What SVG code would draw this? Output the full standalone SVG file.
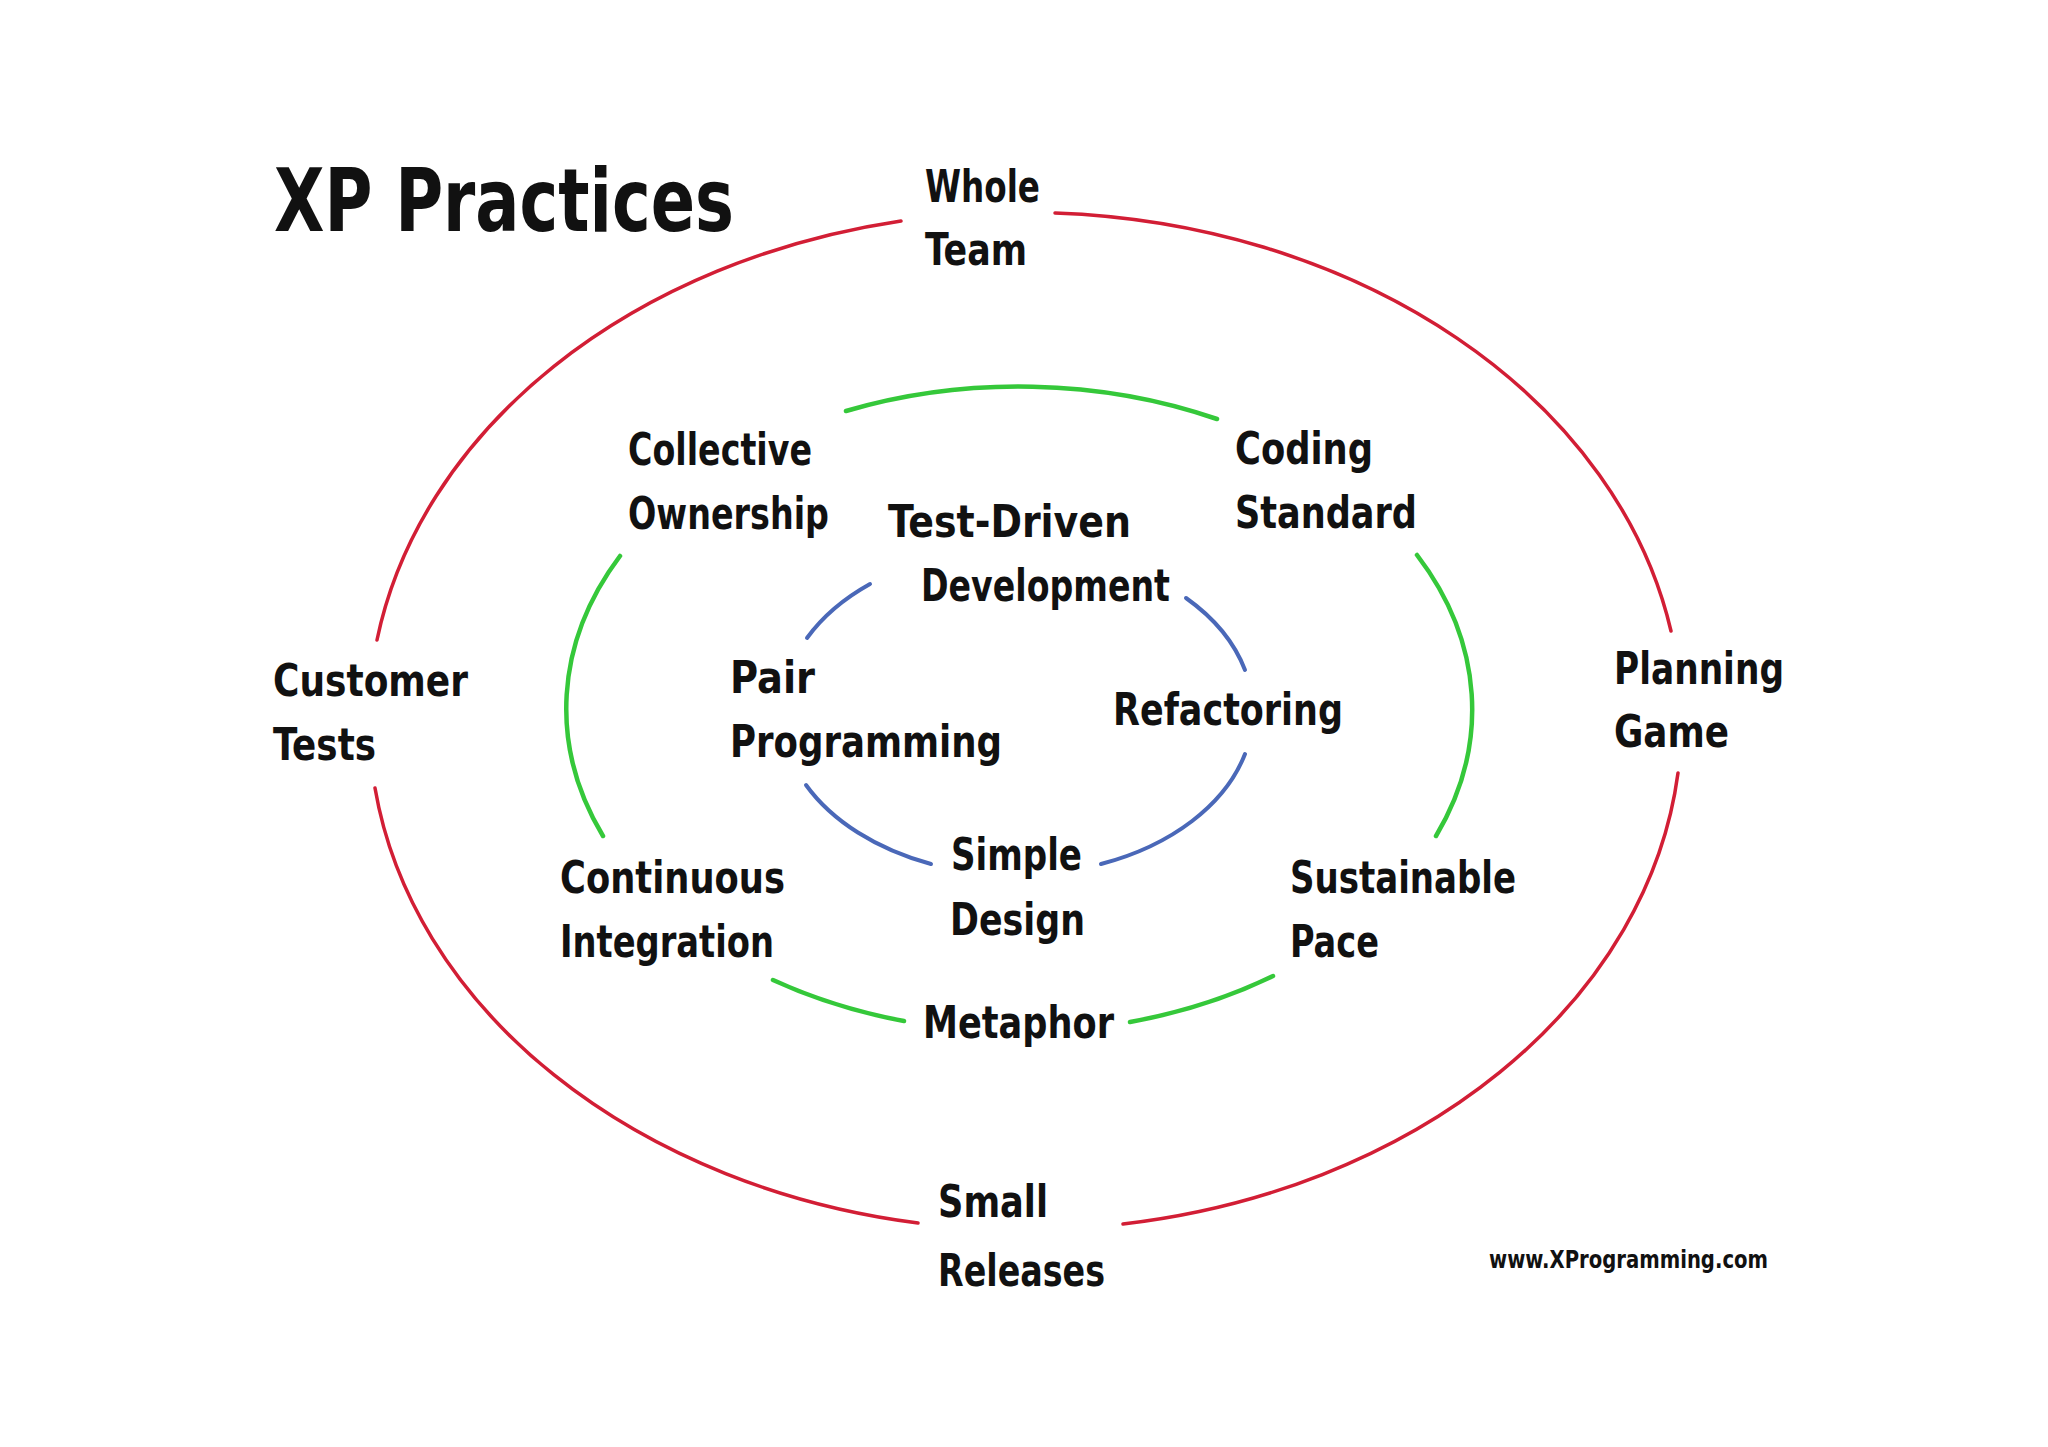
<svg xmlns="http://www.w3.org/2000/svg" width="2048" height="1447" viewBox="0 0 2048 1447">
<style>
.lbl { font-family: "Liberation Sans Narrow", "DejaVu Sans Condensed", "DejaVu Sans", sans-serif; font-weight: bold; font-size: 44px; fill: #111; }
.title { font-family: "Liberation Sans Narrow", "DejaVu Sans Condensed", "DejaVu Sans", sans-serif; font-weight: bold; font-size: 88px; fill: #111; }
.url { font-family: "Liberation Sans Narrow", "DejaVu Sans Condensed", "DejaVu Sans", sans-serif; font-weight: bold; font-size: 25px; fill: #111; }
.red { fill: none; stroke: #d21e35; stroke-width: 3.5; stroke-linecap: round; }
.green { fill: none; stroke: #35c83a; stroke-width: 4.5; stroke-linecap: round; }
.blue { fill: none; stroke: #4a68b8; stroke-width: 4; stroke-linecap: round; }
</style>
<rect width="2048" height="1447" fill="#ffffff"/>
<g id="connectors">
  <path class="red" d="M1055,213 A656,509 0 0 1 1671,631"/>
  <path class="red" d="M1678,773 A656,509 0 0 1 1123,1224"/>
  <path class="red" d="M918,1223 A656,509 0 0 1 375,788"/>
  <path class="red" d="M377,640 A656,509 0 0 1 901,221"/>
  <path class="green" d="M846,411 A453,323 0 0 1 1217,419"/>
  <path class="green" d="M1417,555 A453,323 0 0 1 1436,836"/>
  <path class="green" d="M1273,976 A453,323 0 0 1 1130,1022"/>
  <path class="green" d="M904,1021 A453,323 0 0 1 773,980"/>
  <path class="green" d="M603,836 A453,323 0 0 1 620,556"/>
  <path class="blue" d="M807,638 A236,163 0 0 1 870,584"/>
  <path class="blue" d="M1186,598 A236,163 0 0 1 1245,670"/>
  <path class="blue" d="M1245,754 A236,163 0 0 1 1101,864"/>
  <path class="blue" d="M931,864 A236,163 0 0 1 806,785"/>
</g>
<g id="title"><text class="title" x="274" y="231" textLength="460" lengthAdjust="spacingAndGlyphs">XP Practices</text></g>
<g id="whole-team"><text class="lbl" x="925" y="202" textLength="115" lengthAdjust="spacingAndGlyphs">Whole</text><text class="lbl" x="925" y="265" textLength="102" lengthAdjust="spacingAndGlyphs">Team</text></g>
<g id="collective-ownership"><text class="lbl" x="628" y="465" textLength="184" lengthAdjust="spacingAndGlyphs">Collective</text><text class="lbl" x="628" y="529" textLength="201" lengthAdjust="spacingAndGlyphs">Ownership</text></g>
<g id="test-driven-development"><text class="lbl" x="888" y="537" textLength="243" lengthAdjust="spacingAndGlyphs">Test-Driven</text><text class="lbl" x="921" y="601" textLength="249" lengthAdjust="spacingAndGlyphs">Development</text></g>
<g id="coding-standard"><text class="lbl" x="1235" y="464" textLength="138" lengthAdjust="spacingAndGlyphs">Coding</text><text class="lbl" x="1235" y="528" textLength="182" lengthAdjust="spacingAndGlyphs">Standard</text></g>
<g id="customer-tests"><text class="lbl" x="273" y="696" textLength="195" lengthAdjust="spacingAndGlyphs">Customer</text><text class="lbl" x="273" y="760" textLength="103" lengthAdjust="spacingAndGlyphs">Tests</text></g>
<g id="pair-programming"><text class="lbl" x="730" y="693" textLength="85" lengthAdjust="spacingAndGlyphs">Pair</text><text class="lbl" x="730" y="757" textLength="272" lengthAdjust="spacingAndGlyphs">Programming</text></g>
<g id="refactoring"><text class="lbl" x="1113" y="725" textLength="230" lengthAdjust="spacingAndGlyphs">Refactoring</text></g>
<g id="planning-game"><text class="lbl" x="1614" y="684" textLength="170" lengthAdjust="spacingAndGlyphs">Planning</text><text class="lbl" x="1614" y="747" textLength="115" lengthAdjust="spacingAndGlyphs">Game</text></g>
<g id="simple-design"><text class="lbl" x="951" y="870" textLength="131" lengthAdjust="spacingAndGlyphs">Simple</text><text class="lbl" x="950" y="935" textLength="135" lengthAdjust="spacingAndGlyphs">Design</text></g>
<g id="continuous-integration"><text class="lbl" x="560" y="893" textLength="225" lengthAdjust="spacingAndGlyphs">Continuous</text><text class="lbl" x="560" y="957" textLength="214" lengthAdjust="spacingAndGlyphs">Integration</text></g>
<g id="sustainable-pace"><text class="lbl" x="1290" y="893" textLength="226" lengthAdjust="spacingAndGlyphs">Sustainable</text><text class="lbl" x="1290" y="957" textLength="89" lengthAdjust="spacingAndGlyphs">Pace</text></g>
<g id="metaphor"><text class="lbl" x="923" y="1038" textLength="191" lengthAdjust="spacingAndGlyphs">Metaphor</text></g>
<g id="small-releases"><text class="lbl" x="938" y="1217" textLength="110" lengthAdjust="spacingAndGlyphs">Small</text><text class="lbl" x="938" y="1286" textLength="167" lengthAdjust="spacingAndGlyphs">Releases</text></g>
<g id="url"><text class="url" x="1489" y="1268" textLength="279" lengthAdjust="spacingAndGlyphs">www.XProgramming.com</text></g>
</svg>
